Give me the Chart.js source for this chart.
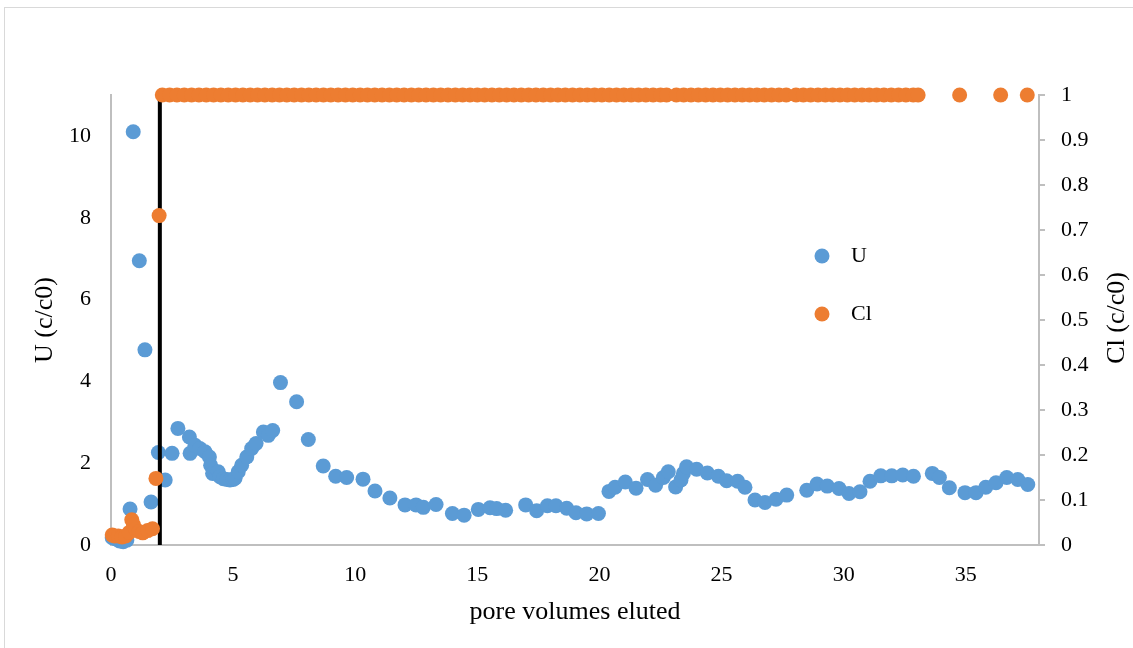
<!DOCTYPE html>
<html lang="en">
<head>
    <meta charset="UTF-8">
    <title>U and Cl elution</title>
    <script src="https://cdn.jsdelivr.net/npm/chart.js"></script>
    <style>
        body { margin: 0; background: #fff; }
        #wrap { width: 1133px; height: 648px; }
    </style>
</head>
<body>
    <div id="wrap"><canvas id="myChart" width="1133" height="648"></canvas></div>

    <script>
        // U data (pore volumes, c/c0)
        const uX = [0.05, 0.2, 0.35, 0.5, 0.65, 0.78, 0.91, 1.16, 1.39, 1.64, 1.94, 2.22, 2.5, 2.74,
            3.21, 3.24, 3.44, 3.64, 3.85, 4.03, 4.08, 4.16, 4.39, 4.46, 4.6, 4.75, 4.87, 5.0, 5.08,
            5.21, 5.35, 5.56, 5.76, 5.94, 6.24, 6.44, 6.62, 6.94, 7.6, 8.08, 8.69, 9.2, 9.65, 10.32,
            10.81, 11.42, 12.04, 12.49, 12.79, 13.31, 13.98, 14.46, 15.04, 15.52, 15.79, 16.16, 16.98,
            17.43, 17.87, 18.22, 18.66, 19.04, 19.48, 19.96, 20.39, 20.64, 21.06, 21.5, 21.97, 22.3,
            22.62, 22.82, 23.12, 23.34, 23.44, 23.57, 23.98, 24.42, 24.87, 25.21, 25.66, 25.96, 26.37,
            26.78, 27.23, 27.67, 28.49, 28.91, 29.33, 29.81, 30.22, 30.67, 31.08, 31.52, 31.97, 32.42,
            32.86, 33.63, 33.92, 34.33, 34.97, 35.42, 35.82, 36.24, 36.68, 37.13, 37.54];
        const uY = [0.18, 0.15, 0.1, 0.08, 0.12, 0.88, 10.1, 6.95, 4.77, 1.05, 2.26, 1.59, 2.24, 2.85,
            2.64, 2.24, 2.44, 2.36, 2.28, 2.15, 1.95, 1.75, 1.79, 1.67, 1.62, 1.6, 1.59, 1.6, 1.63,
            1.79, 1.95, 2.15, 2.36, 2.48, 2.76, 2.68, 2.8, 3.97, 3.5, 2.58, 1.93, 1.68, 1.65, 1.61,
            1.32, 1.15, 0.98, 0.98, 0.92, 0.99, 0.77, 0.73, 0.87, 0.91, 0.89, 0.85, 0.98,
            0.84, 0.96, 0.96, 0.9, 0.79, 0.76, 0.77, 1.31, 1.41, 1.54, 1.39, 1.6, 1.46,
            1.65, 1.79, 1.42, 1.59, 1.75, 1.91, 1.85, 1.76, 1.68, 1.57, 1.56, 1.41, 1.1,
            1.04, 1.12, 1.22, 1.34, 1.49, 1.44, 1.38, 1.26, 1.3, 1.56, 1.69, 1.69, 1.71,
            1.68, 1.75, 1.65, 1.4, 1.28, 1.28, 1.41, 1.52, 1.65, 1.6, 1.48];

        // Cl data, breakthrough part
        const clEarlyX = [0.05, 0.15, 0.3, 0.45, 0.6, 0.75, 0.85, 0.92, 1.0, 1.15, 1.3, 1.5, 1.7, 1.84, 1.97];
        const clEarlyY = [0.022, 0.02, 0.02, 0.018, 0.02, 0.028, 0.056, 0.045, 0.035, 0.03, 0.027, 0.032, 0.036, 0.148, 0.732];

        // Cl data, plateau part
        const clPlateauX = [2.1, 2.4, 2.7, 3, 3.3, 3.6, 3.9, 4.2, 4.5, 4.8, 5.1, 5.4, 5.7, 6, 6.3, 6.6, 6.9,
            7.2, 7.5, 7.8, 8.1, 8.4, 8.7, 9, 9.3, 9.6, 9.9, 10.2, 10.5, 10.8, 11.1, 11.4, 11.7, 12, 12.3,
            12.6, 12.9, 13.2, 13.5, 13.8, 14.1, 14.4, 14.7, 15, 15.3, 15.6, 15.9, 16.2, 16.5, 16.8, 17.1,
            17.4, 17.7, 18, 18.3, 18.6, 18.9, 19.2, 19.5, 19.8, 20.1, 20.4, 20.7, 21, 21.3, 21.6, 21.9,
            22.2, 22.5, 22.75, 23.15, 23.45, 23.75, 24.05, 24.35, 24.65, 24.95, 25.25, 25.55, 25.85,
            26.15, 26.45, 26.75, 27.05, 27.35, 27.65, 28.05, 28.35, 28.65, 28.95, 29.25, 29.55, 29.85,
            30.15, 30.45, 30.75, 31.05, 31.35, 31.65, 31.95, 32.25, 32.55, 32.85, 33.05,
            34.75, 36.43, 37.52];
        const clPlateauY = [1, 1, 1, 1, 1, 1, 1, 1, 1, 1,
            1, 1, 1, 1, 1, 1, 1, 1, 1, 1,
            1, 1, 1, 1, 1, 1, 1, 1, 1, 1,
            1, 1, 1, 1, 1, 1, 1, 1, 1, 1,
            1, 1, 1, 1, 1, 1, 1, 1, 1, 1,
            1, 1, 1, 1, 1, 1, 1, 1, 1, 1,
            1, 1, 1, 1, 1, 1, 1, 1, 1, 1,
            1, 1, 1, 1, 1, 1, 1, 1, 1, 1,
            1, 1, 1, 1, 1, 1, 1, 1, 1, 1,
            1, 1, 1, 1, 1, 1, 1, 1, 1, 1,
            1, 1, 1, 1, 1, 1, 1];

        // vertical marker at 2 pore volumes
        const markerX = [2, 2];
        const markerY = [0, 11];

        const xTicks = [0, 5, 10, 15, 20, 25, 30, 35];
        const uTicks = [0, 2, 4, 6, 8, 10];

        const blue = '#5B9BD5';
        const orange = '#ED7D31';
        const axisGray = '#BFBFBF';
        const serif = "'Liberation Serif', 'Times New Roman', serif";

        const toPts = (xs, ys) => xs.map((x, i) => ({ x: x, y: ys[i] }));
        const clX = clEarlyX.concat(clPlateauX);
        const clY = clEarlyY.concat(clPlateauY);

        // legend + frame + right title
        const extras = {
            id: 'extras',
            afterDraw(chart) {
                const ctx = chart.ctx;
                ctx.save();
                ctx.strokeStyle = '#D9D9D9';
                ctx.lineWidth = 1;
                ctx.strokeRect(4.5, 7.5, 1140, 660);

                ctx.font = '22px ' + serif;
                ctx.fillStyle = '#000';
                ctx.textBaseline = 'middle';
                ctx.textAlign = 'left';
                [['U', blue, 256], ['Cl', orange, 314]].forEach(([t, c, y]) => {
                    ctx.beginPath();
                    ctx.fillStyle = c;
                    ctx.arc(822, y, 7.5, 0, Math.PI * 2);
                    ctx.fill();
                    ctx.fillStyle = '#000';
                    ctx.fillText(t, 851, y);
                });

                ctx.translate(1117, 318);
                ctx.rotate(-Math.PI / 2);
                ctx.textAlign = 'center';
                ctx.font = '26px ' + serif;
                ctx.fillText('Cl (c/c0)', 0, 0);
                ctx.restore();
            }
        };

        const ctx = document.getElementById('myChart').getContext('2d');
        const myChart = new Chart(ctx, {
            type: 'scatter',
            data: {
                datasets: [{
                    label: 'Cl',
                    data: toPts(clX, clY),
                    yAxisID: 'y1',
                    backgroundColor: orange,
                    pointRadius: 7.5,
                    pointBorderWidth: 0,
                    order: 0,
                    clip: false
                }, {
                    label: 'marker',
                    type: 'line',
                    data: toPts(markerX, markerY),
                    yAxisID: 'y',
                    borderColor: '#000',
                    borderWidth: 4,
                    pointRadius: 0,
                    order: 1
                }, {
                    label: 'U',
                    data: toPts(uX, uY),
                    yAxisID: 'y',
                    backgroundColor: blue,
                    pointRadius: 7.5,
                    pointBorderWidth: 0,
                    order: 2,
                    clip: false
                }]
            },
            options: {
                responsive: false,
                animation: false,
                layout: { padding: { left: 30, right: 0, top: 95, bottom: 0 } },
                plugins: {
                    legend: { display: false },
                    tooltip: { enabled: false }
                },
                scales: {
                    x: {
                        type: 'linear',
                        min: 0,
                        max: 38,
                        afterBuildTicks: axis => { axis.ticks = xTicks.map(v => ({ value: v })); },
                        afterFit: axis => { axis.height = 103; },
                        ticks: { padding: 17, color: '#000', font: { family: serif, size: 22 } },
                        grid: { drawOnChartArea: false, drawTicks: false },
                        border: { color: axisGray, width: 2 },
                        title: {
                            display: true,
                            text: 'pore volumes eluted',
                            color: '#000',
                            font: { family: serif, size: 26 },
                            padding: { top: 0, bottom: 20 }
                        }
                    },
                    y: {
                        position: 'left',
                        min: 0,
                        max: 11,
                        afterBuildTicks: axis => { axis.ticks = uTicks.map(v => ({ value: v })); },
                        afterFit: axis => { axis.width = 81; },
                        ticks: { padding: 20, color: '#000', font: { family: serif, size: 22 } },
                        grid: { drawOnChartArea: false, drawTicks: false },
                        border: { color: axisGray, width: 2 },
                        title: {
                            display: true,
                            text: 'U (c/c0)',
                            color: '#000',
                            font: { family: serif, size: 26 },
                            padding: 0
                        }
                    },
                    y1: {
                        position: 'right',
                        min: 0,
                        max: 1,
                        afterFit: axis => { axis.width = 94; },
                        ticks: {
                            stepSize: 0.1,
                            padding: 16,
                            color: '#000',
                            font: { family: serif, size: 22 },
                            callback: v => String(+v.toFixed(1))
                        },
                        grid: { drawOnChartArea: false, drawTicks: true, tickLength: 6, color: axisGray, lineWidth: 2 },
                        border: { color: axisGray, width: 2 }
                    }
                }
            },
            plugins: [extras]
        });
    </script>
</body>
</html>
